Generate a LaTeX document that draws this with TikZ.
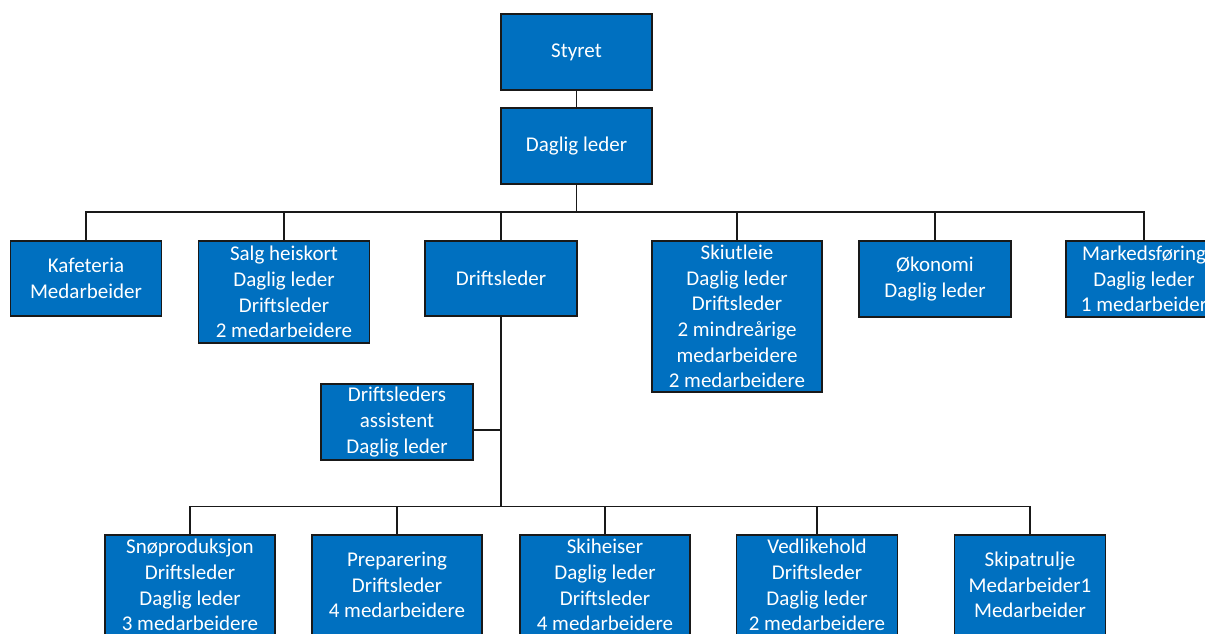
\documentclass[tikz,border=0pt]{standalone}
\usepackage{fontspec}
\setmainfont{Carlito}
\definecolor{boxblue}{RGB}{0,112,192}
\begin{document}
\begin{tikzpicture}[x=1pt,y=-1pt,
  orgbox/.style={draw=black!90, line width=1.8pt, fill=boxblue, text=white,
    inner sep=0pt, align=center, font=\fontsize{21}{25.6}\selectfont},
  link/.style={draw=black!90, line width=1.8pt}]
\path[use as bounding box] (0,0) rectangle (1205,634);
\clip (0,0) rectangle (1205,634);
\fill[white] (0,0) rectangle (1205,634);
% top
\node[orgbox, minimum width=151pt, minimum height=76pt] (sty) at (576.5,52) {Styret};
\node[orgbox, minimum width=151pt, minimum height=76pt] (dl) at (576.5,146) {Daglig leder};
% level 2
\node[orgbox, minimum width=151pt, minimum height=75pt] (kaf) at (86,278.5) {Kafeteria\\Medarbeider};
\node[orgbox, minimum width=171pt, minimum height=102pt] (salg) at (284,292) {Salg heiskort\\Daglig leder\\Driftsleder\\2 medarbeidere};
\node[orgbox, minimum width=152pt, minimum height=75pt] (ds) at (501,278.5) {Driftsleder};
\node[orgbox, minimum width=170pt, minimum height=151pt] (ski) at (737,316.5) {Skiutleie\\Daglig leder\\Driftsleder\\2 mindreårige\\medarbeidere\\2 medarbeidere};
\node[orgbox, minimum width=152pt, minimum height=76pt] (oko) at (935,279) {Økonomi\\Daglig leder};
\node[orgbox, minimum width=156pt, minimum height=76pt] (mark) at (1144,279) {Markedsføring\\Daglig leder\\1 medarbeider};
% assistant
\node[orgbox, minimum width=152pt, minimum height=76pt] (asst) at (397,422) {Driftsleders\\assistent\\Daglig leder};
% level 3
\node[orgbox, minimum width=170pt, minimum height=100pt] (sno) at (190,585) {Snøproduksjon\\Driftsleder\\Daglig leder\\3 medarbeidere};
\node[orgbox, minimum width=170pt, minimum height=100pt] (prep) at (397,585) {Preparering\\Driftsleder\\4 medarbeidere};
\node[orgbox, minimum width=170pt, minimum height=100pt] (skih) at (605,585) {Skiheiser\\Daglig leder\\Driftsleder\\4 medarbeidere};
\node[orgbox, minimum width=161pt, minimum height=100pt] (ved) at (817,585) {Vedlikehold\\Driftsleder\\Daglig leder\\2 medarbeidere};
\node[orgbox, minimum width=151pt, minimum height=100pt] (pat) at (1030,585) {Skipatrulje\\Medarbeider1\\Medarbeider};
% bus coordinates
\coordinate (dlbus) at (576.5,212);
\coordinate (dsbus) at (501,506.5);
% connectors
\draw[link] (sty.south) -- (dl.north);
\draw[link] (dl.south) -- (dlbus);
\foreach \c in {kaf,salg,ds,ski,oko,mark} \draw[link] (\c.north) |- (dlbus);
\draw[link] (ds.south) -- (dsbus);
\foreach \c in {sno,prep,skih,ved,pat} \draw[link] (\c.north) |- (dsbus);
\draw[link] ([yshift=-8pt]asst.east) -- ([yshift=-8pt]asst.east -| ds.south);
\end{tikzpicture}
\end{document}
